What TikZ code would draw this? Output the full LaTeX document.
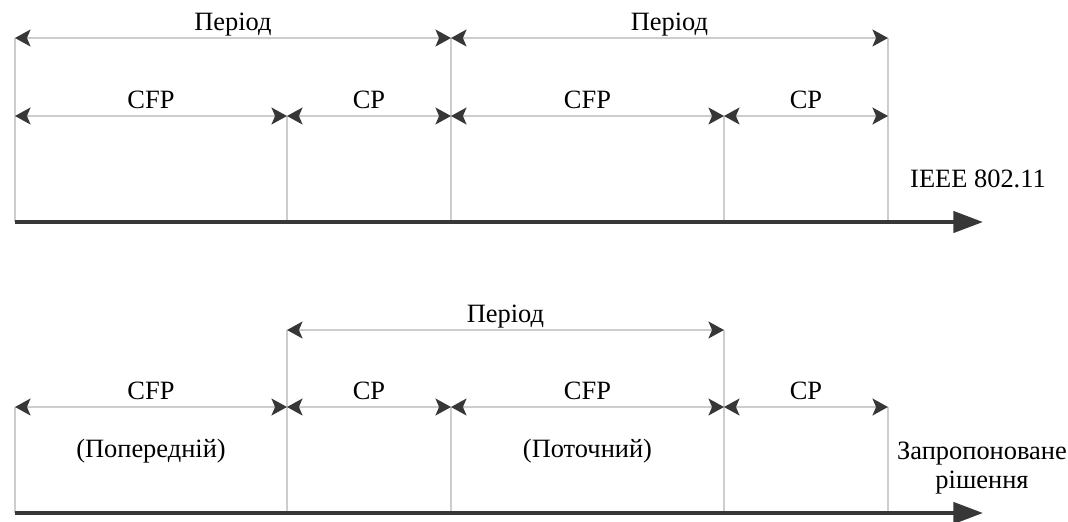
\documentclass[tikz,border=0pt]{standalone}
\usepackage{fontspec}
\setmainfont{Liberation Serif}
\usetikzlibrary{arrows.meta}
\usetikzlibrary{positioning}
\definecolor{lgray}{RGB}{205, 205, 205}
\definecolor{dgray}{RGB}{55, 55, 55}
\tikzset{span/.style = {lgray, line width=1.6pt,
                        arrows={Stealth[length=11pt, width=12pt, inset=2.5pt, color=dgray]-Stealth[length=11pt, width=12pt, inset=2.5pt, color=dgray]}}}
\tikzset{tick/.style = {lgray, line width=1.2pt}}
\tikzset{axis/.style = {dgray, line width=2.8pt, -{Triangle[length=21pt, width=15pt]}}}
\tikzset{lbl/.style = {black, anchor=base, yshift=5.4pt}}
\tikzset{sub/.style = {black, anchor=base, yshift=-36pt}}

\begin{document}
\begin{tikzpicture}[x=0.025cm, y=-0.025cm, font=\fontsize{18.8}{20.5}\selectfont]
    \useasboundingbox (0, 0) rectangle (1068, 521);

    \coordinate (p0) at (15, 38);
    \coordinate (p1) at (451, 38);
    \coordinate (p2) at (888, 38);
    \coordinate (s0) at (15, 116);
    \coordinate (s1) at (287, 116);
    \coordinate (s2) at (451, 116);
    \coordinate (s3) at (724, 116);
    \coordinate (s4) at (888, 116);
    \coordinate (o) at (15, 222);
    \coordinate (t) at (983, 222);

    \foreach \c in {p0, s1, p1, s3, p2}
      \draw [tick] (\c) -- (\c |- o);

    \draw [span] (p0) -- (p1) node [lbl, midway] (per1) {Період};
    \draw [span] (p1) -- (p2) node [lbl, midway] (per2) {Період};

    \draw [span] (s0) -- (s1) node [lbl, midway] (cfp1) {CFP};
    \draw [span] (s1) -- (s2) node [lbl, midway] (cp1) {CP};
    \draw [span] (s2) -- (s3) node [lbl, midway] (cfp2) {CFP};
    \draw [span] (s3) -- (s4) node [lbl, midway] (cp2) {CP};

    \draw [axis] (o) -- (t);
    \node [anchor=base] (ieee) at (978, 187) {IEEE 802.11};

    \begin{scope}[shift={(0, 291)}]
      \coordinate (q0) at (287, 39);
      \coordinate (q1) at (724, 39);
      \coordinate (r0) at (15, 116);
      \coordinate (r1) at (287, 116);
      \coordinate (r2) at (451, 116);
      \coordinate (r3) at (724, 116);
      \coordinate (r4) at (888, 116);
      \coordinate (bo) at (15, 222);
      \coordinate (bt) at (983, 222);

      \foreach \c in {r0, q0, r2, q1, r4}
        \draw [tick] (\c) -- (\c |- bo);

      \draw [span] (q0) -- (q1) node [lbl, midway] (per3) {Період};

      \draw [span] (r0) -- (r1) node [lbl, midway] (cfp3) {CFP}
                                node [sub, midway] (prev) {(Попередній)};
      \draw [span] (r1) -- (r2) node [lbl, midway] (cp3) {CP};
      \draw [span] (r2) -- (r3) node [lbl, midway] (cfp4) {CFP}
                                node [sub, midway] (curr) {(Поточний)};
      \draw [span] (r3) -- (r4) node [lbl, midway] (cp4) {CP};

      \draw [axis] (bo) -- (bt);
      \node [align=center, inner sep=0] (prop) at (982, 177) {Запропоноване\\рішення};
    \end{scope}
\end{tikzpicture}
\end{document}
